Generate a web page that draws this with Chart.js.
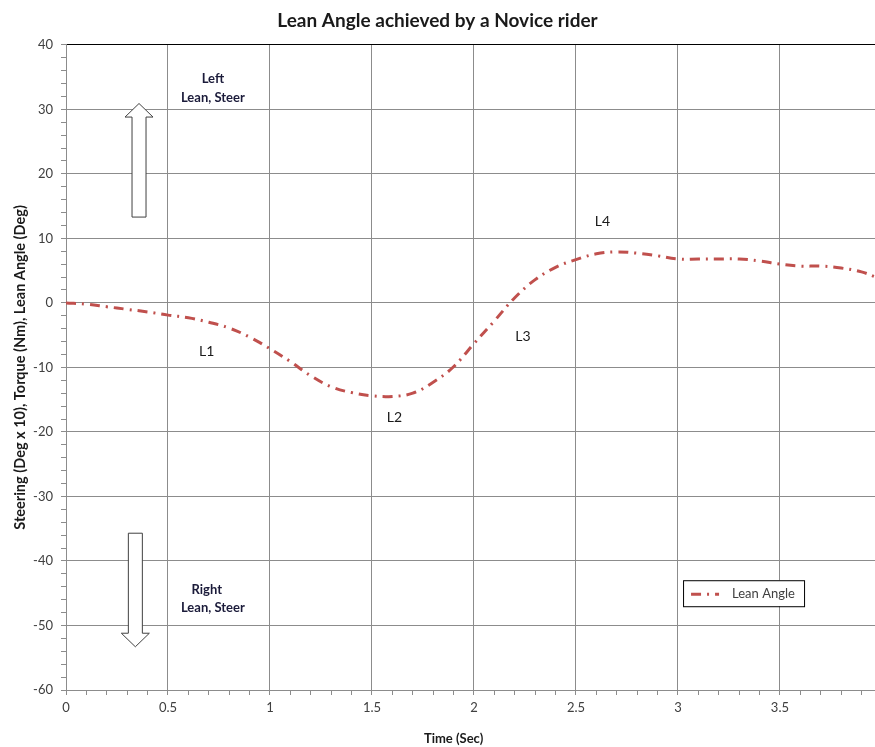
<!DOCTYPE html>
<html>
<head>
<meta charset="utf-8">
<title>Lean Angle achieved by a Novice rider</title>
<script src="https://cdn.jsdelivr.net/npm/chart.js@4/dist/chart.umd.min.js"></script>
<style>
  html, body { margin: 0; padding: 0; background: #fff; }
  #wrap { width: 875px; height: 747px; }
</style>
</head>
<body>
<div id="wrap"><canvas id="leanChart" width="875" height="747"></canvas></div>
<script>
// time (sec) and lean angle (deg)
const times = [0, 0.1, 0.2, 0.3, 0.4, 0.5, 0.6, 0.7, 0.8, 0.9, 1.0, 1.1, 1.2, 1.3, 1.4,
  1.5, 1.6, 1.7, 1.8, 1.9, 2.0, 2.1, 2.2, 2.3, 2.4, 2.5, 2.6, 2.7, 2.8, 2.9, 3.0,
  3.1, 3.2, 3.3, 3.4, 3.5, 3.6, 3.7, 3.8, 3.9, 3.97];
const leanAngle = [0, -0.2, -0.6, -1.0, -1.4, -1.9, -2.3, -3.0, -3.9, -5.3, -7.1, -9.1, -11.3, -13.0, -13.9,
  -14.4, -14.5, -14.0, -12.3, -9.9, -6.3, -2.8, 0.8, 3.6, 5.5, 6.7, 7.6, 7.9, 7.7, 7.3, 6.8,
  6.8, 6.8, 6.8, 6.5, 6.0, 5.7, 5.7, 5.4, 4.8, 4.0];

// text notes on the plot: [text, x, y, bold]
const notes = [
  ["Left", 0.72, 34.7, true],
  ["Lean, Steer", 0.72, 31.8, true],
  ["Right", 0.69, -44.5, true],
  ["Lean, Steer", 0.72, -47.2, true],
  ["L1", 0.69, -7.5, false],
  ["L2", 1.61, -17.7, false],
  ["L3", 2.24, -5.2, false],
  ["L4", 2.63, 12.6, false]
];
// block arrows: x centre, tail y, head base y, tip y
const arrows = [
  [0.358, 13.3, 28.8, 30.9],
  [0.34, -35.7, -51.2, -53.3]
];
const xTitle = "Time (Sec)";

const FONT = "Lato, 'Open Sans', sans-serif";
const RED = "#c0504d";
const DASH = [10, 6, 2, 6];

const isMajor = (v, step) => Math.abs(v / step - Math.round(v / step)) < 1e-6;

const notesPlugin = {
  id: "notes",
  afterDatasetsDraw(chart) {
    const ctx = chart.ctx;
    const xs = chart.scales.x, ys = chart.scales.y;
    ctx.save();

    // arrows
    ctx.fillStyle = "#fff";
    ctx.strokeStyle = "#404040";
    ctx.lineWidth = 1;
    arrows.forEach(([x, tail, base, tip]) => {
      const cx = xs.getPixelForValue(x);
      const yt = ys.getPixelForValue(tail);
      const yb = ys.getPixelForValue(base);
      const yp = ys.getPixelForValue(tip);
      ctx.beginPath();
      ctx.moveTo(cx - 7, yt);
      ctx.lineTo(cx - 7, yb);
      ctx.lineTo(cx - 14, yb);
      ctx.lineTo(cx, yp);
      ctx.lineTo(cx + 14, yb);
      ctx.lineTo(cx + 7, yb);
      ctx.lineTo(cx + 7, yt);
      ctx.closePath();
      ctx.fill();
      ctx.stroke();
    });

    // labels
    ctx.textAlign = "center";
    ctx.textBaseline = "middle";
    notes.forEach(([t, x, y, bold]) => {
      ctx.font = (bold ? "bold 13px " : "14px ") + FONT;
      ctx.fillStyle = bold ? "#1b1b3a" : "#1a1a1a";
      ctx.fillText(t, xs.getPixelForValue(x), ys.getPixelForValue(y));
    });

    // x axis title (sits left of the centre in the original)
    ctx.font = "bold 13px " + FONT;
    ctx.fillStyle = "#1a1a1a";
    ctx.fillText(xTitle, xs.getPixelForValue(1.9), xs.bottom - 8);

    // legend box
    const lx = xs.getPixelForValue(3.025);
    const ly = ys.getPixelForValue(-45);
    ctx.fillStyle = "#fff";
    ctx.fillRect(lx, ly - 13, 121, 26);
    ctx.strokeStyle = "#000";
    ctx.strokeRect(lx + 0.5, ly - 12.5, 121, 26);
    ctx.strokeStyle = RED;
    ctx.lineWidth = 3;
    ctx.setLineDash(DASH);
    ctx.beginPath();
    ctx.moveTo(lx + 8, ly + 1);
    ctx.lineTo(lx + 36, ly + 1);
    ctx.stroke();
    ctx.setLineDash([]);
    ctx.fillStyle = "#404040";
    ctx.font = "13px " + FONT;
    ctx.textAlign = "left";
    ctx.fillText(chart.data.datasets[0].label, lx + 49, ly + 1);
    ctx.restore();
  }
};

new Chart(document.getElementById("leanChart"), {
  type: "line",
  data: {
    datasets: [{
      label: "Lean Angle",
      data: times.map((t, i) => ({ x: t, y: leanAngle[i] })),
      borderColor: RED,
      borderWidth: 3,
      borderDash: DASH,
      tension: 0.4,
      pointRadius: 0,
      fill: false
    }]
  },
  options: {
    responsive: false,
    animation: false,
    layout: { padding: { top: 5, right: 0, left: 0, bottom: 0 } },
    plugins: {
      legend: { display: false },
      tooltip: { enabled: false },
      title: {
        display: true,
        text: "Lean Angle achieved by a Novice rider",
        color: "#1a1a1a",
        font: { family: FONT, size: 19, weight: "bold" },
        padding: { top: 4, bottom: 13 }
      }
    },
    scales: {
      x: {
        type: "linear",
        min: 0,
        max: 3.966,
        afterFit: (s) => { s.height = 57; },
        ticks: {
          stepSize: 0.1,
          includeBounds: false,
          autoSkip: false,
          maxRotation: 0,
          padding: 5,
          color: "#404040",
          font: { family: FONT, size: 13 },
          callback: (v) => isMajor(v, 0.5) ? String(Math.round(v * 10) / 10) : ""
        },
        grid: {
          color: (c) => isMajor(c.tick.value, 0.5) ? "#8c8c8c" : "rgba(0,0,0,0)",
          tickColor: "#8c8c8c",
          tickLength: 5
        },
        border: { color: "#8c8c8c" }
      },
      y: {
        min: -60,
        max: 40,
        afterFit: (s) => { s.width = 66; },
        ticks: {
          stepSize: 2,
          autoSkip: false,
          padding: 8,
          color: "#404040",
          font: { family: FONT, size: 13 },
          callback: (v) => isMajor(v, 10) ? String(v) : ""
        },
        grid: {
          color: (c) => c.tick.value === 40 ? "#000" : (isMajor(c.tick.value, 10) ? "#8c8c8c" : "rgba(0,0,0,0)"),
          tickColor: "#8c8c8c",
          tickLength: 5
        },
        border: { color: "#8c8c8c" },
        title: {
          display: true,
          text: "Steering (Deg x 10), Torque (Nm), Lean Angle (Deg)",
          color: "#1a1a1a",
          font: { family: FONT, size: 14.5, weight: "bold" },
          padding: { top: 12, bottom: 0 }
        }
      }
    }
  },
  plugins: [notesPlugin]
});
</script>
</body>
</html>
